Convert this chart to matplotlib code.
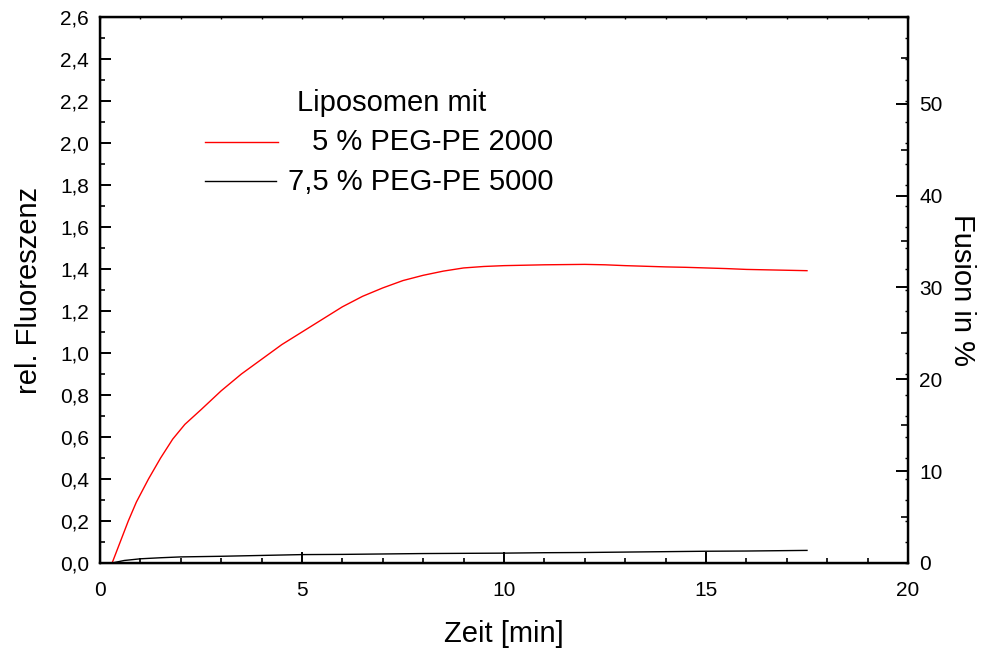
import matplotlib
matplotlib.use("Agg")
import matplotlib.pyplot as plt
from matplotlib.ticker import MultipleLocator, FuncFormatter

plt.rcParams['font.family'] = ['Liberation Sans', 'DejaVu Sans']

# Time axis (minutes) and relative fluorescence of both liposome preparations
t_peg2000 = [0.0, 0.3, 0.5, 0.7, 0.9, 1.2, 1.5, 1.8, 2.1, 2.5, 3.0, 3.5, 4.0,
             4.5, 5.0, 5.5, 6.0, 6.5, 7.0, 7.5, 8.0, 8.5, 9.0, 9.5, 10.0,
             10.5, 11.0, 11.5, 12.0, 12.5, 13.0, 13.5, 14.0, 14.5, 15.0,
             15.5, 16.0, 16.5, 17.0, 17.5]
f_peg2000 = [0.0, 0.0, 0.10, 0.20, 0.29, 0.40, 0.50, 0.59, 0.66, 0.73, 0.82,
             0.90, 0.97, 1.04, 1.10, 1.16, 1.22, 1.27, 1.31, 1.345, 1.37,
             1.39, 1.405, 1.412, 1.416, 1.418, 1.42, 1.421, 1.422, 1.42,
             1.416, 1.413, 1.41, 1.408, 1.405, 1.402, 1.398, 1.396, 1.394,
             1.392]

t_peg5000 = [0.0, 0.3, 0.6, 1.0, 1.5, 2.0, 3.0, 4.0, 5.0, 6.0, 7.0, 8.0, 9.0,
             10.0, 11.0, 12.0, 13.0, 14.0, 15.0, 16.0, 17.0, 17.5]
f_peg5000 = [0.0, 0.0, 0.012, 0.02, 0.025, 0.029, 0.032, 0.036, 0.04, 0.041,
             0.043, 0.045, 0.046, 0.047, 0.049, 0.05, 0.052, 0.054, 0.056,
             0.057, 0.059, 0.06]

legend_title = "Liposomen mit"
legend_labels = ["5 % PEG-PE 2000", "7,5 % PEG-PE 5000"]

fig = plt.figure(figsize=(9.84, 6.48), dpi=100)
ax = fig.add_axes([100 / 984, 1 - 563 / 648, 808 / 984, 546 / 648])

ax.plot(t_peg5000, f_peg5000, color="black", lw=1.0)
ax.plot(t_peg2000, f_peg2000, color="red", lw=1.0)

ax.set_xlim(0, 20)
ax.set_ylim(0, 2.6)
ax.xaxis.set_major_locator(MultipleLocator(5))
ax.xaxis.set_minor_locator(MultipleLocator(1))
ax.yaxis.set_major_locator(MultipleLocator(0.2))
ax.yaxis.set_minor_locator(MultipleLocator(0.1))
ax.yaxis.set_major_formatter(FuncFormatter(lambda v, p: f"{v:.1f}".replace(".", ",")))

for s in ax.spines.values():
    s.set_linewidth(1.6)

ax.tick_params(which="major", direction="in", length=8, width=1.4,
               labelsize=15)
ax.tick_params(axis="y", which="major", pad=8)
ax.tick_params(axis="x", which="major", pad=13)
ax.tick_params(which="minor", direction="in", length=3.6, width=1.2)
ax.tick_params(axis="both", which="both", top=False, right=False)

ax.set_xlabel("Zeit [min]", fontsize=21, labelpad=14)
ax.set_ylabel("rel. Fluoreszenz", fontsize=21, labelpad=12)

# Right axis: fusion in percent
ax2 = ax.twinx()
ax2.set_ylim(0, 2.6 / 1.4 * 32.0)
ax2.yaxis.set_major_locator(MultipleLocator(10))
ax2.yaxis.set_minor_locator(MultipleLocator(5))
ax2.tick_params(which="major", direction="in", length=8.5, width=1.4,
                labelsize=15, pad=8)
ax2.tick_params(which="minor", direction="in", length=5, width=1.2)
ax2.set_ylabel("Fusion in %", fontsize=21, rotation=270, labelpad=24)
for s in ax2.spines.values():
    s.set_linewidth(1.6)

# Short mirrored ticks of the fluorescence scale on the right spine
ax3 = ax.twinx()
ax3.set_ylim(0, 2.6)
ax3.yaxis.set_major_locator(MultipleLocator(0.2))
ax3.yaxis.set_minor_locator(MultipleLocator(0.1))
ax3.tick_params(which="both", direction="in", length=2.5, width=1.0,
                labelright=False)
ax3.spines["right"].set_visible(False)

# Tiny ticks along the top spine
ax4 = ax.twiny()
ax4.set_xlim(0, 20)
ax4.xaxis.set_major_locator(MultipleLocator(1))
ax4.tick_params(which="major", direction="in", length=1.6, width=1.0,
                labeltop=False)

# Legend block
ax.text(0.244, 0.842, legend_title, transform=ax.transAxes, fontsize=21,
        ha="left", va="center")
ax.plot([0.130, 0.220], [0.771, 0.771], transform=ax.transAxes,
        color="red", lw=1.0)
ax.plot([0.130, 0.218], [0.700, 0.700], transform=ax.transAxes,
        color="black", lw=1.0)
ax.text(0.561, 0.771, legend_labels[0], transform=ax.transAxes, fontsize=21,
        ha="right", va="center")
ax.text(0.561, 0.697, legend_labels[1], transform=ax.transAxes, fontsize=21,
        ha="right", va="center")

fig.savefig("out.png", dpi=100)
